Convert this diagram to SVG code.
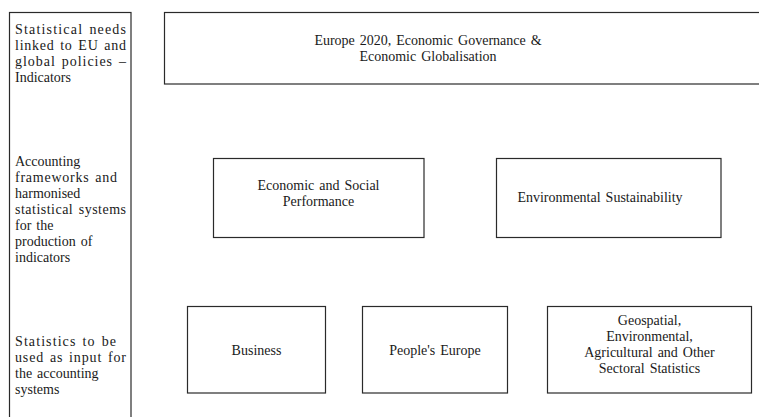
<svg xmlns="http://www.w3.org/2000/svg" width="759" height="417" viewBox="0 0 759 417">
<style>
.box{fill:#fff;stroke:#2a2a2a;stroke-width:1.2}
.t{font-family:"Liberation Serif","Times New Roman",serif;font-size:14px;fill:#1a1a1a;word-spacing:1.5px}
.c{text-anchor:middle}
</style>
<rect width="759" height="417" fill="#fff"/>
<g id="levels">
<rect class="box" x="9.5" y="12.5" width="121.5" height="420"/>
<text class="t" x="15" y="34" textLength="111" lengthAdjust="spacing">Statistical needs</text>
<text class="t" x="15" y="50" textLength="111" lengthAdjust="spacing">linked to EU and</text>
<text class="t" x="15" y="66" textLength="111" lengthAdjust="spacing">global policies –</text>
<text class="t" x="15" y="82">Indicators</text>
<text class="t" x="15" y="166">Accounting</text>
<text class="t" x="15" y="182" textLength="102" lengthAdjust="spacing">frameworks and</text>
<text class="t" x="15" y="198">harmonised</text>
<text class="t" x="15" y="214" textLength="111" lengthAdjust="spacing">statistical systems</text>
<text class="t" x="15" y="230">for the</text>
<text class="t" x="15" y="246">production of</text>
<text class="t" x="15" y="262">indicators</text>
<text class="t" x="15" y="346" textLength="101" lengthAdjust="spacing">Statistics to be</text>
<text class="t" x="15" y="362" textLength="111" lengthAdjust="spacing">used as input for</text>
<text class="t" x="15" y="378">the accounting</text>
<text class="t" x="15" y="394">systems</text>
</g>
<g id="europe2020">
<rect class="box" x="164.5" y="12.5" width="610" height="71.5"/>
<text class="t c" x="428" y="45">Europe 2020, Economic Governance &amp;</text>
<text class="t c" x="428" y="61">Economic Globalisation</text>
</g>
<g id="economic-social">
<rect class="box" x="213.5" y="158.5" width="210.5" height="79"/>
<text class="t c" x="318.5" y="190">Economic and Social</text>
<text class="t c" x="318.5" y="206">Performance</text>
</g>
<g id="environmental-sustainability">
<rect class="box" x="496.5" y="158.5" width="224.5" height="79"/>
<text class="t c" x="600" y="202">Environmental Sustainability</text>
</g>
<g id="business">
<rect class="box" x="187.5" y="306.5" width="138" height="86.5"/>
<text class="t c" x="256.5" y="355">Business</text>
</g>
<g id="peoples-europe">
<rect class="box" x="362.5" y="306.5" width="145" height="86.5"/>
<text class="t c" x="435" y="355">People's Europe</text>
</g>
<g id="geospatial">
<rect class="box" x="547.5" y="306.5" width="204" height="86.5"/>
<text class="t c" x="649.5" y="325">Geospatial,</text>
<text class="t c" x="649.5" y="341">Environmental,</text>
<text class="t c" x="649.5" y="357">Agricultural and Other</text>
<text class="t c" x="649.5" y="373">Sectoral Statistics</text>
</g>
<g id="connectors"></g>
</svg>
